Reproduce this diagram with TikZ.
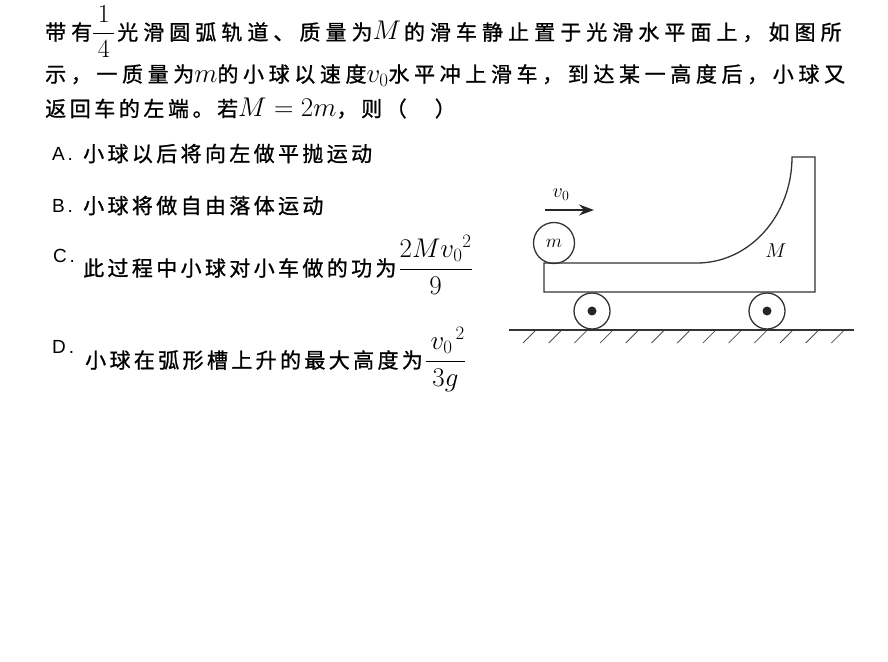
\RequirePackage{fix-cm}
\documentclass[tikz,border=0pt]{standalone}
\usepackage{amsmath}
\usepackage{fontspec}
\usepackage{tikz}
\usetikzlibrary{arrows.meta,positioning}
\newfontfamily\cjk[FakeBold=1]{Noto Sans CJK SC}
\newfontfamily\optfont[LetterSpace=15]{Liberation Sans}
\newcommand{\fm}[1]{{\fontsize{27}{30}\selectfont$#1$}}
\newcommand{\spaced}[1]{\addfontfeature{LetterSpace=#1}}
\tikzstyle{stem}=[anchor=base west,inner sep=0pt,font=\cjk\fontsize{21}{25}\selectfont]
\tikzstyle{choice}=[anchor=base west,inner sep=0pt,font=\cjk\fontsize{21}{25}\selectfont\spaced{16}]
\tikzstyle{letter}=[anchor=base west,inner sep=0pt,font=\optfont\fontsize{19}{21}\selectfont]
\tikzstyle{body}=[draw=black!80,line width=1.3pt]
\tikzstyle{hatch}=[draw=black!70,line width=0.8pt]
\tikzstyle{wheel}=[circle,draw=black!80,line width=1.3pt,minimum size=36pt,inner sep=0pt]
\tikzstyle{axle}=[circle,fill=black!85,minimum size=9pt,inner sep=0pt]
\tikzstyle{ball}=[circle,draw=black!80,line width=1.3pt,minimum size=41pt,inner sep=0pt,font=\fontsize{19}{21}\selectfont]
\tikzstyle{tag}=[inner sep=0pt,font=\fontsize{20}{22}\selectfont]
\tikzstyle{velocity}=[draw=black!85,line width=1.4pt,-{Stealth[length=15pt,width=11pt]}]
\begin{document}
\begin{tikzpicture}[x=1pt,y=-1pt]
    \useasboundingbox (0,0) rectangle (888,661);
    % The question
    \node[stem] (line1) at (45,40) {\spaced{24}带有{\fontsize{26}{30}\selectfont$\dfrac{\,1\,}{\,4\,}$}\hspace{2pt}光滑圆弧轨道、质量为\fm{M}\hspace{3pt}的滑车静止置于光滑水平面上，如图所};
    \node[stem] (line2) at (45,82) {\spaced{22}示，一质量为\fm{m}的小球以速度\fm{v_0}水平冲上滑车，到达某一高度后，小球又};
    \node[stem] (line3) at (45,116.5) {\spaced{17}返回车的左端。若\fm{M=2m}，则（　）};
    % The four choices
    \foreach \name/\y/\txt in {A/160/小球以后将向左做平抛运动, B/212/小球将做自由落体运动} {
        \node[letter] (opt\name) at (52,\y) {\name.};
        \node[choice] (txt\name) at (83,\y+1.5) {\txt};
    }
    \node[letter] (optC) at (53,262) {C.};
    \node[choice] (txtC) at (83,276) {此过程中小球对小车做的功为\hspace{2pt}\fm{\dfrac{2M{v_0}^2}{9}}};
    \node[letter] (optD) at (52,353) {D.};
    \node[choice] (txtD) at (85,368) {小球在弧形槽上升的最大高度为\hspace{2pt}\fm{\dfrac{\,{v_0}^{\,2}}{3g}}};

    % The cart with its quarter-circle track
    \path[body] (544,263) -- (697,263)
        .. controls (749.5,263) and (792,215.5) .. (792,157)
        -- (815,157) -- (815,292) -- (544,292) -- cycle;
    \node[tag] (massM) at (776,251) {$M$};
    % Wheels
    \foreach \pos/\name in {{(592,311)/wheelL}, {(767,311)/wheelR}} {
        \node[wheel] (\name) at \pos {};
        \node[axle] (\name-axle) at (\name) {};
    }
    % The ball and its velocity
    \node[ball] (ball) at (554,243) {$m$};
    \coordinate (vstart) at (545,210);
    \coordinate (vend) at (594,210);
    \path[velocity] (vstart) -- (vend);
    \node[tag] (vlabel) at (561,195) {$v_0$};
    % Ground
    \path[body] (509,330) -- (854,330);
    \foreach \x in {0,...,12}
        \path[hatch] ({535+25.7*\x},331) -- ++(-12,12);
\end{tikzpicture}
\end{document}
